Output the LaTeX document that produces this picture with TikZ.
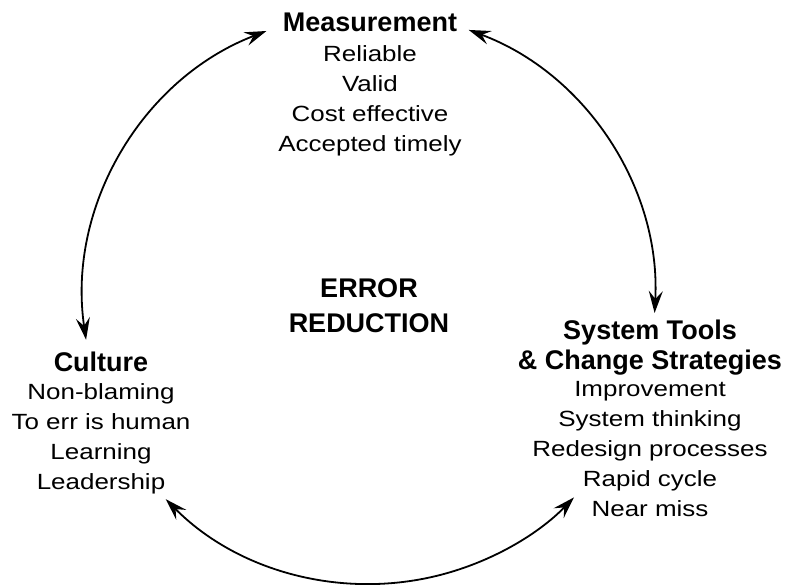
\documentclass[tikz,border=0pt]{standalone}
\usepackage{fontspec}
\setmainfont{Liberation Sans}[FakeStretch=1.18]
\newfontfamily\headfont{Liberation Sans}
\usetikzlibrary{arrows.meta,positioning}

\begin{document}
\begin{tikzpicture}[x=1pt,y=1pt,>={Stealth[length=22pt,width=14pt,inset=8pt]},
  every node/.style={inner sep=0pt,align=center,anchor=base},
  head/.style={font=\headfont\bfseries\fontsize{27}{30}\selectfont},
  items/.style={font=\fontsize{22}{30}\selectfont},
  loopline/.style={<->,line width=1.8pt}]
\useasboundingbox (0,0) rectangle (788,585);

% centre of the cycle
\coordinate (c) at (369,287);
\node[head,font=\headfont\bfseries\fontsize{27}{35}\selectfont] (err) at (369,252) {ERROR\\REDUCTION};

\node[head]  (meas)     at (370,553) {Measurement};
\node[items] (measlist) at (370,433) {Reliable\\Valid\\Cost effective\\Accepted timely};

\node[head]  (cult)     at (101,213) {Culture};
\node[items] (cultlist) at (101,95)  {Non-blaming\\To err is human\\Learning\\Leadership};

\node[head]  (sys)      at (650,215) {System Tools\\\& Change Strategies};
\node[items] (syslist)  at (650,68)  {Improvement\\System thinking\\Redesign processes\\Rapid cycle\\Near miss};

% arc ends
\coordinate (m1) at ([shift={(c)}]111:286);
\coordinate (m2) at ([shift={(c)}]69.6:286);
\coordinate (s1) at ([shift={(c)}]-44.2:286);
\coordinate (k1) at ([shift={(c)}]224.7:286);

\draw[loopline] (m1) arc[start angle=111,end angle=188.4,radius=286];
\draw[loopline] (m2) arc[start angle=69.6,end angle=-3,radius=286];
\draw[loopline] (k1) arc[start angle=224.7,end angle=315.8,radius=286];
\end{tikzpicture}
\end{document}
